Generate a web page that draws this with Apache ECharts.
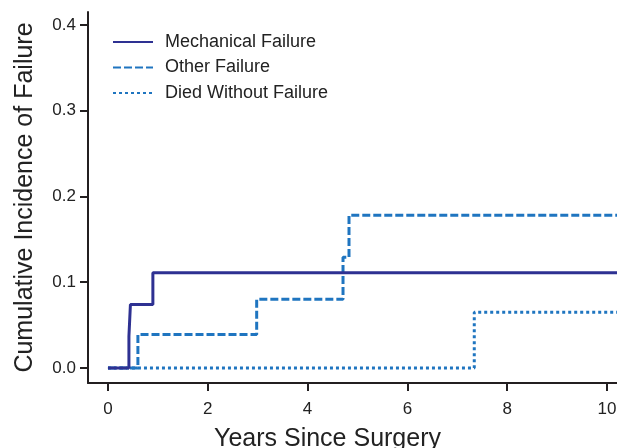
<!DOCTYPE html>
<html>
<head>
<meta charset="utf-8">
<script src="https://cdn.jsdelivr.net/npm/echarts@6/dist/echarts.min.js"></script>
<style>
  html, body { margin: 0; padding: 0; background: #fff; }
  #chart { width: 617px; height: 448px; }
</style>
</head>
<body>
<div id="chart"></div>
<script>
// step points (years, cumulative incidence)
const mechYears = [0, 0.42, 0.45, 0.9, 10.2]
const mechVals = [0, 0.037, 0.074, 0.111, 0.111]
const otherYears = [0, 0.6, 2.98, 4.71, 4.83, 10.2]
const otherVals = [0, 0.039, 0.08, 0.129, 0.178, 0.178]
const diedYears = [0, 7.34, 10.2]
const diedVals = [0, 0.065, 0.065]

const xTicks = [0, 2, 4, 6, 8, 10]
const yTicks = [0, 0.1, 0.2, 0.3, 0.4]

const pairs = (xs, ys) => xs.map((x, i) => [x, ys[i]])

const font = 'Liberation Sans, Arial, Helvetica, sans-serif'
const axisColor = '#231f20'

const chart = echarts.init(document.getElementById('chart'))
chart.setOption({
  animation: false,
  textStyle: { fontFamily: font },
  grid: { left: 88, top: 12, right: 0, bottom: 65, outerBoundsMode: 'none', containLabel: false },
  legend: {
    orient: 'vertical',
    left: 112,
    top: 33,
    padding: 0,
    itemGap: 7.5,
    itemWidth: 40,
    itemHeight: 16,
    itemStyle: { opacity: 0 },
    textStyle: { fontSize: 18, lineHeight: 16, color: '#222', padding: [0, 0, 0, 7], fontFamily: font },
    data: ['Mechanical Failure', 'Other Failure', 'Died Without Failure'],
  },
  xAxis: {
    type: 'value',
    min: -0.4,
    max: 10.2,
    name: 'Years Since Surgery',
    nameLocation: 'middle',
    nameGap: 44,
    nameTextStyle: { fontSize: 25, color: '#222', padding: [0, 50, 0, 0] },
    splitLine: { show: false },
    axisLine: { onZero: false, lineStyle: { color: axisColor, width: 2 } },
    axisTick: { customValues: xTicks, length: 8, lineStyle: { color: axisColor, width: 2 } },
    axisLabel: { customValues: xTicks, fontSize: 17, color: '#222', margin: 18 },
  },
  yAxis: {
    type: 'value',
    min: -0.0175,
    max: 0.415,
    name: 'Cumulative Incidence of Failure',
    nameLocation: 'middle',
    nameGap: 50,
    nameTextStyle: { fontSize: 25, color: '#222' },
    splitLine: { show: false },
    axisLine: { onZero: false, lineStyle: { color: axisColor, width: 2 } },
    axisTick: { customValues: yTicks, length: 8, lineStyle: { color: axisColor, width: 2 } },
    axisLabel: {
      customValues: yTicks,
      fontSize: 17,
      color: '#222',
      margin: 12,
      formatter: v => v.toFixed(1),
    },
  },
  series: [
    {
      name: 'Died Without Failure',
      type: 'line',
      step: 'end',
      data: pairs(diedYears, diedVals),
      symbol: 'none',
      z: 2,
      itemStyle: { color: '#1f75c0' },
      lineStyle: { color: '#1f75c0', width: 3, type: [3, 3] },
    },
    {
      name: 'Other Failure',
      type: 'line',
      step: 'end',
      data: pairs(otherYears, otherVals),
      symbol: 'none',
      z: 3,
      itemStyle: { color: '#1f75c0' },
      lineStyle: { color: '#1f75c0', width: 3, type: [8, 3] },
    },
    {
      name: 'Mechanical Failure',
      type: 'line',
      step: 'end',
      data: pairs(mechYears, mechVals),
      symbol: 'none',
      z: 4,
      itemStyle: { color: '#2e3192' },
      lineStyle: { color: '#2e3192', width: 3 },
    },
  ],
})
</script>
</body>
</html>
